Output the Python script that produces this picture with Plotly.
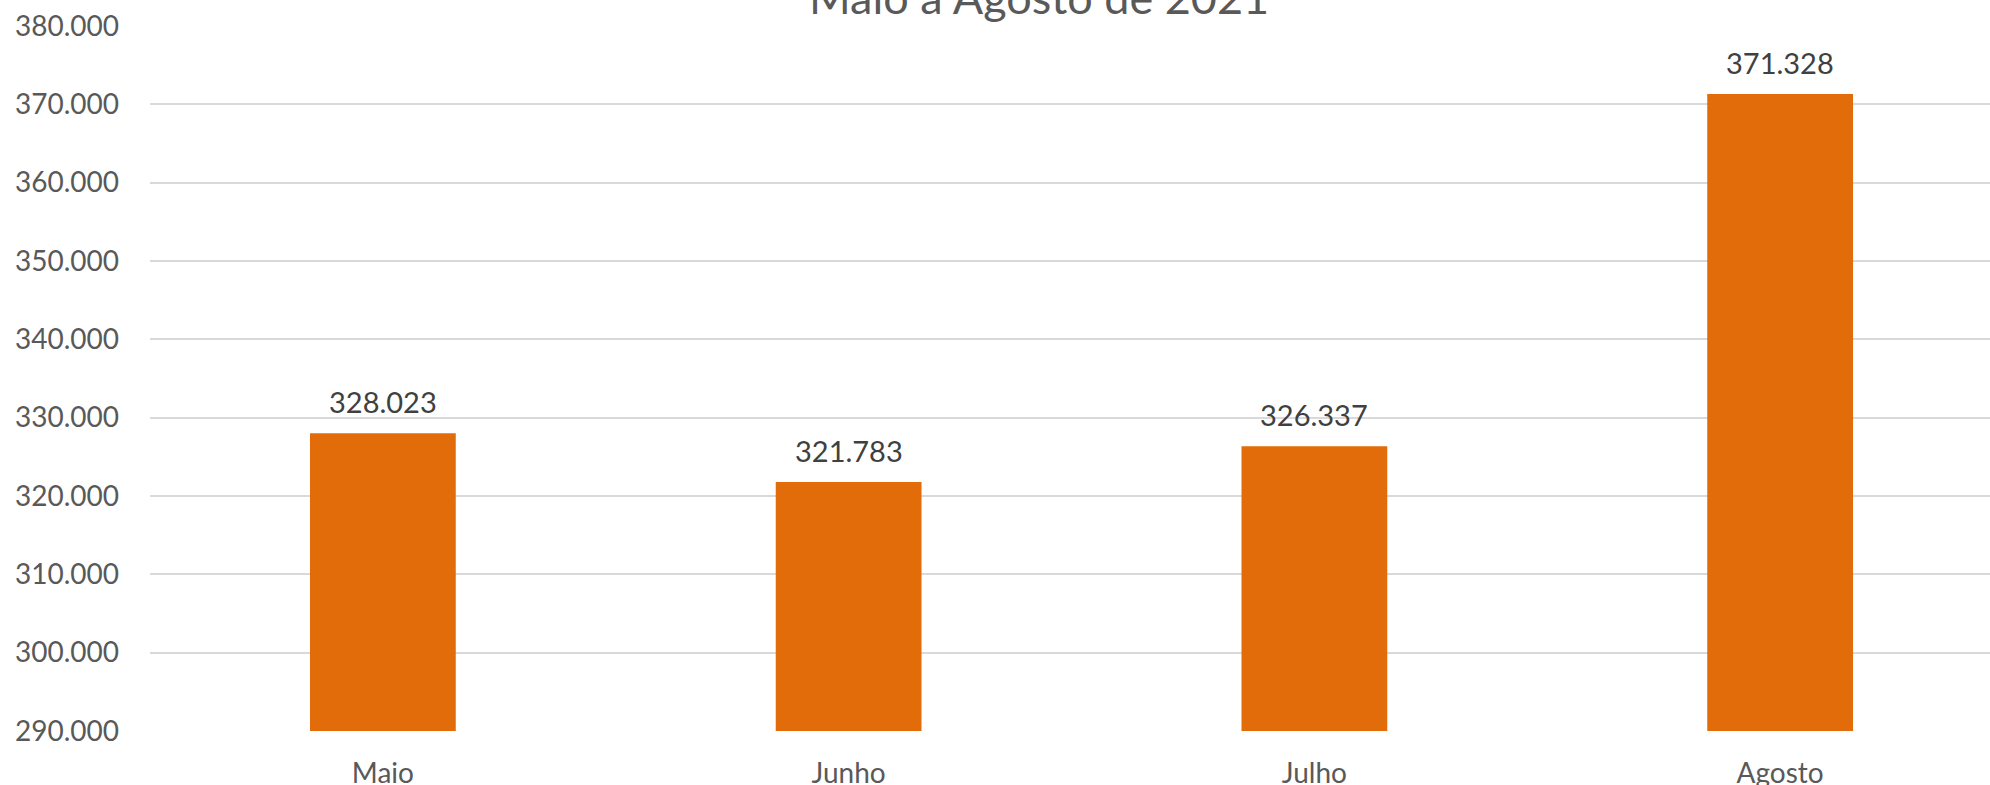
import plotly.graph_objects as go

# Monthly totals, May to August 2021
months = ["Maio", "Junho", "Julho", "Agosto"]
totals = [328023, 321783, 326337, 371328]
y_ticks = [290000, 300000, 310000, 320000, 330000, 340000, 350000, 360000, 370000, 380000]
y_tick_labels = ["290.000", "300.000", "310.000", "320.000", "330.000",
                 "340.000", "350.000", "360.000", "370.000", "380.000"]
title_text = "Maio a Agosto de 2021"


def fmt_pt(v):
    # Portuguese thousands separator
    return f"{v:,}".replace(",", ".")


BAR_COLOR = "#E36C0A"
FONT = "Lato"

fig = go.Figure()
fig.add_trace(go.Bar(
    x=list(range(len(months))),
    y=totals,
    marker=dict(color=BAR_COLOR, line=dict(width=0)),
    hoverinfo="skip",
))

# value labels above each bar
for i, v in enumerate(totals):
    fig.add_annotation(
        x=i, y=v, xref="x", yref="y",
        text=fmt_pt(v), showarrow=False,
        yanchor="bottom", yshift=12,
        font=dict(family=FONT, size=29, color="#404040"),
    )

# chart title, sitting at the very top edge
fig.add_annotation(
    x=0.4834, y=1, xref="paper", yref="paper",
    text=title_text, showarrow=False,
    xanchor="center", yanchor="bottom", yshift=0,
    font=dict(family=FONT, size=45, color="#595959"),
)

fig.update_layout(
    width=1990, height=785,
    margin=dict(l=150, r=0, t=26, b=54, pad=0),
    plot_bgcolor="white", paper_bgcolor="white",
    showlegend=False,
    bargap=0.687,
    font=dict(family=FONT, color="#595959"),
    xaxis=dict(
        range=[-0.5, 3.4506],
        tickmode="array",
        tickvals=list(range(len(months))),
        ticktext=months,
        showgrid=False, zeroline=False, showline=False,
        ticks="", ticklabelstandoff=23,
        tickfont=dict(family=FONT, size=28, color="#595959"),
        automargin=False,
        fixedrange=True,
    ),
    yaxis=dict(
        range=[290000, 380000],
        tickmode="array",
        tickvals=y_ticks,
        ticktext=y_tick_labels,
        showgrid=True, gridcolor="#D9D9D9", gridwidth=1.5,
        zeroline=False, showline=False,
        ticks="", ticklabelstandoff=30,
        tickfont=dict(family=FONT, size=28, color="#595959"),
        automargin=False,
        fixedrange=True,
    ),
)

fig.write_html("out.html", config={"displayModeBar": False})
